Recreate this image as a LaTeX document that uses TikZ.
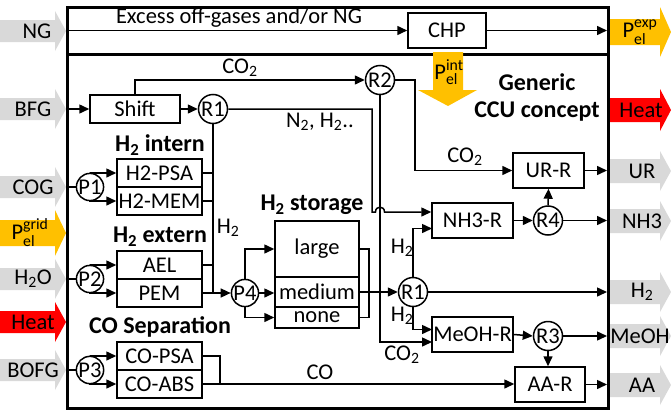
\documentclass[tikz,border=0pt]{standalone}
\usepackage{amsmath}
\usepackage{fontspec}
\setmainfont{Carlito}
\usetikzlibrary{arrows.meta,calc}
\definecolor{arrgray}{HTML}{D9D9D9}
\definecolor{pyellow}{HTML}{FFC000}
\definecolor{hred}{HTML}{FF0000}
\newcommand{\sbs}[1]{\textsubscript{#1}}
\newcommand{\Pel}[1]{$\text{P}^{\text{#1}}_{\text{el}}$}
\newcommand{\blockarr}[7]{\fill[#1] (#2,#5-#6) -- (#3,#5-#6) -- (#3,#5-#7) -- (#4,#5) -- (#3,#5+#7) -- (#3,#5+#6) -- (#2,#5+#6) -- cycle;}
\begin{document}
\begin{tikzpicture}[x=1pt,y=-1pt,
  font=\fontsize{22.5}{26}\selectfont,
  line width=1.5pt,
  >={Triangle[length=10pt,width=9pt]},
  blk/.style 2 args={draw, inner sep=0, minimum width=#1, minimum height=#2},
  circ/.style={draw, circle, inner sep=0, minimum size=29pt},
  pcirc/.style={draw, circle, inner sep=0, minimum size=26pt},
  lbl/.style={inner sep=0},
  head/.style={inner sep=0, font=\fontsize{24}{28}\selectfont\bfseries}]
\useasboundingbox (0,0) rectangle (671,415);

% ---- big input / output arrows
\blockarr{arrgray}{0}{55}{66}{31}{11}{20}
\blockarr{arrgray}{0}{55}{66}{109}{11}{20}
\blockarr{arrgray}{0}{55}{66}{187}{11}{20}
\blockarr{pyellow}{0}{55}{66}{233}{13}{23}
\blockarr{arrgray}{0}{55}{66}{279}{11}{20}
\blockarr{hred}{0}{55}{66}{322}{11}{20}
\blockarr{arrgray}{0}{55}{66}{370}{11}{20}
\blockarr{pyellow}{610}{660}{671}{32}{13}{25}
\blockarr{hred}{610}{660}{671}{110}{12}{21}
\blockarr{arrgray}{610}{660}{671}{171}{12}{20}
\blockarr{arrgray}{610}{660}{671}{221}{12}{20}
\blockarr{arrgray}{610}{660}{671}{292}{12}{20}
\blockarr{arrgray}{610}{660}{671}{336}{12}{20}
\blockarr{arrgray}{610}{660}{671}{385}{12}{20}

% ---- frame
\draw[line width=3pt] (67,7) rectangle (608,408);
\draw[line width=3pt] (67,54) -- (608,54);

% ---- internal electricity arrow
\fill[pyellow] (433,52) -- (463,52) -- (463,90) -- (477,90) -- (448,106) -- (418,90) -- (433,90) -- cycle;

% ---- nodes
\node[blk={78pt}{35pt}] (chp) at (447,30.5) {CHP};
\node[blk={90pt}{28pt}] (shift) at (135,109) {Shift};
\node[circ] (r1a) at (213,109) {R1};
\node[circ] (r2) at (380,80) {R2};
\node[pcirc] (p1) at (90,187) {P1};
\node[blk={85pt}{28pt}] (psa) at (159.5,173) {H2-PSA};
\node[blk={85pt}{28pt}] (mem) at (159.5,201) {H2-MEM};
\node[pcirc] (p2) at (90,279) {P2};
\node[blk={85pt}{28pt}] (ael) at (159.5,265) {AEL};
\node[blk={85pt}{28pt}] (pem) at (159.5,293) {PEM};
\node[pcirc] (p3) at (90,370) {P3};
\node[blk={85pt}{28pt}] (copsa) at (159.5,356) {CO-PSA};
\node[blk={85pt}{28pt}] (coabs) at (159.5,384) {CO-ABS};
\node[pcirc] (p4) at (245,293) {P4};
\node[blk={84pt}{56pt}] (large) at (317,249) {large};
\node[blk={84pt}{30pt}] (medium) at (317,292) {medium};
\node[blk={84pt}{21pt}] (none) at (317,317.5) {none};
\node[circ] (r1b) at (413,292) {R1};
\node[blk={81pt}{35pt}] (nh3) at (472.5,220.5) {NH3-R};
\node[circ] (r4) at (548,220.5) {R4};
\node[blk={71pt}{35pt}] (urr) at (548.5,170.5) {UR-R};
\node[blk={81pt}{35pt}] (meoh) at (472.5,334.5) {MeOH-R};
\node[circ] (r3) at (548,336) {R3};
\node[blk={70pt}{35pt}] (aar) at (550,384.5) {AA-R};

% ---- coordinates
\coordinate (ngin) at (67,30.5);
\coordinate (fexp) at (607,30.5);
\coordinate (fbfg) at (67,109);
\coordinate (fcog) at (67,187);
\coordinate (fh2o) at (67,279);
\coordinate (fbofg) at (67,370);
\coordinate (fur) at (607,170.5);
\coordinate (fnh3) at (607,220.5);
\coordinate (fh2) at (607,292);
\coordinate (fmeoh) at (607,336);
\coordinate (faa) at (607,384.5);
\coordinate (colb) at (213,293);
\coordinate (sc1) at (369,249);
\coordinate (n2c) at (372,212);
\coordinate (hopa) at (375.5,212);
\coordinate (hopb) at (384.5,212);
\coordinate (r2r) at (415,170.5);
\coordinate (nh3in2) at (432,228.5);
\coordinate (meohin1) at (432,329.5);
\coordinate (meohin2) at (432,342);
\coordinate (coj) at (220,356);

% ---- connectors
\draw[->] (ngin) -- (chp.west);
\draw[->] (chp.east) -- (fexp);
\draw[->] (fbfg) -- (shift.west);
\draw[->] (shift.east) -- (r1a.west);
\draw[->] (shift.north) |- (r2.west);
\draw (fcog) -- (p1.west);
\draw[->] (p1.north) |- (psa.west);
\draw[->] (p1.south) |- (mem.west);
\draw (fh2o) -- (p2.west);
\draw[->] (p2.north) |- (ael.west);
\draw[->] (p2.south) |- (pem.west);
\draw (fbofg) -- (p3.west);
\draw[->] (p3.north) |- (copsa.west);
\draw[->] (p3.south) |- (coabs.west);
\draw (r1a.south) -- (colb);
\draw (psa.east) -- (psa.east -| colb);
\draw (mem.east) -- (mem.east -| colb);
\draw (ael.east) -- (ael.east -| colb);
\draw[->] (pem.east) -- (p4.west);
\draw[->] (p4.north) |- (large.west);
\draw[->] (p4.east) -- (p4.east -| medium.west);
\draw[->] (p4.south) |- (none.west);
\draw (large.east) -- (sc1) -- (sc1 |- none.east) -- (none.east);
\draw[->] (medium.east) -- (r1b.west);
\draw[->] (r1a.east) -| (n2c) -- (hopa) .. controls (375.5,205.5) and (384.5,205.5) .. (hopb) -- (nh3.west |- n2c);
\draw[->] (r2.east) -| (r2r) -- (urr.west);
\draw[->] (r2.south) |- (meohin2);
\draw[->] (r1b.north) |- (nh3in2);
\draw[->] (r1b.south) |- (meohin1);
\draw[->] (r1b.east) -- (fh2);
\draw[->] (nh3.east) -- (r4.west);
\draw[->] (r4.north) -- (urr.south);
\draw[->] (r4.east) -- (fnh3);
\draw[->] (urr.east) -- (fur);
\draw[->] (meoh.east) -- (r3.west);
\draw[->] (r3.east) -- (fmeoh);
\draw[->] (r3.south) -- (r3.south |- aar.north);
\draw[->] (aar.east) -- (faa);
\draw (copsa.east) -- (coj) -- (coj |- coabs.east);
\draw[->] (coabs.east) -- (coabs.east -| aar.west);

% ---- labels
\node[lbl] (tex) at (239,18) {Excess off-gases and/or NG};
\node[lbl] (tco2a) at (240,68) {CO\sbs{2}};
\node[lbl] (tn2) at (320,122) {N\sbs{2}, H\sbs{2}..};
\node[lbl] (th2c) at (228,228) {H\sbs{2}};
\node[lbl] (tco2b) at (465,157) {CO\sbs{2}};
\node[lbl] (th2n) at (402,248) {H\sbs{2}};
\node[lbl] (th2m) at (402,316) {H\sbs{2}};
\node[lbl] (tco2c) at (402,355) {CO\sbs{2}};
\node[lbl] (tco) at (320,372) {CO};
\node[head] (hint) at (160,145) {H\sbs{2} intern};
\node[head] (hext) at (160,237) {H\sbs{2} extern};
\node[head] (hco) at (160,327) {CO Separation};
\node[head] (hsto) at (312,205) {H\sbs{2} storage};
\node[head] (hgen) at (537,82) {Generic};
\node[head] (hccu) at (537,112) {CCU concept};

\node[lbl] (lng) at (37,31) {NG};
\node[lbl] (lbfg) at (33,109) {BFG};
\node[lbl] (lcog) at (33,187) {COG};
\node[lbl] (lgrid) at (30,233) {\Pel{grid}};
\node[lbl] (lh2o) at (33,279) {H\sbs{2}O};
\node[lbl] (lheat) at (33,322) {Heat};
\node[lbl] (lbofg) at (33,370) {BOFG};
\node[lbl] (lexp) at (640,32) {\Pel{exp}};
\node[lbl] (lheat2) at (641,110) {Heat};
\node[lbl] (lur) at (642,171) {UR};
\node[lbl] (lnh3) at (642,221) {NH3};
\node[lbl] (lh2) at (642,292) {H\sbs{2}};
\node[lbl] (lmeoh) at (640,336) {MeOH};
\node[lbl] (laa) at (642,385) {AA};
\node[lbl] (lint) at (449,72) {\Pel{int}};
\end{tikzpicture}
\end{document}
